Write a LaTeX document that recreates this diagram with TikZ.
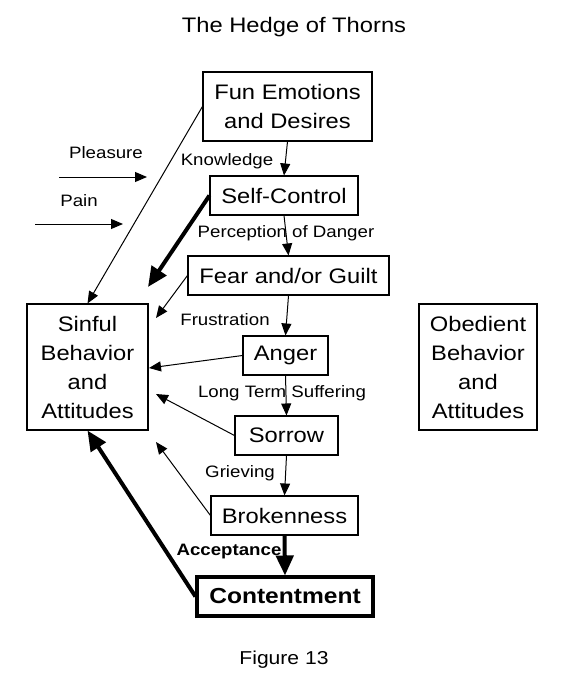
\documentclass[tikz,border=0pt]{standalone}
\usepackage{fontspec}
\setmainfont{Liberation Sans}[FakeStretch=1.13]
\usetikzlibrary{arrows.meta}
\newdimen\pxu \pxu=0.75pt
\newcommand\boxfont{\fontsize{15.75}{21.75}\selectfont}
\newcommand\lblfont{\fontsize{12.4}{14}\selectfont}
\tikzset{
  box/.style={draw, line width=0.8pt, inner sep=0pt, align=center, font=\boxfont},
  lbl/.style={inner sep=0pt, font=\lblfont},
  thin/.style={line width=0.75pt, -{Triangle[length=9pt,width=7.5pt]}},
  thick/.style={line width=3pt, -{Triangle[length=15pt,width=13pt]}},
}
\begin{document}
\begin{tikzpicture}[x=0.75pt,y=-0.75pt]
\useasboundingbox (0,0) rectangle (564,688);
% title and caption
\node[inner sep=0pt, font=\fontsize{15.75}{18}\selectfont] (title) at (294,27) {The Hedge of Thorns};
\node[inner sep=0pt, font=\fontsize{14}{16}\selectfont] (fig) at (284,660) {Figure 13};
% boxes
\node[box, minimum width=169\pxu, minimum height=69\pxu] (fun) at (287.5,106.5) {Fun Emotions\\and Desires};
\node[box, minimum width=148\pxu, minimum height=39\pxu] (self) at (284,195.5) {Self-Control};
\node[box, minimum width=201\pxu, minimum height=39\pxu] (fear) at (288.5,275.5) {Fear and/or Guilt};
\node[box, minimum width=85\pxu, minimum height=39\pxu] (anger) at (285.5,355.5) {Anger};
\node[box, minimum width=103\pxu, minimum height=39\pxu] (sorrow) at (286.5,435.5) {Sorrow};
\node[box, minimum width=147\pxu, minimum height=39\pxu] (broken) at (284.5,515.5) {Brokenness};
\node[box, line width=2.3pt, minimum width=176\pxu, minimum height=39\pxu, font=\fontsize{16.3}{20}\selectfont\bfseries] (content) at (285,596.5) {Contentment};
\node[box, minimum width=121\pxu, minimum height=126\pxu] (sinful) at (87.5,367) {Sinful\\Behavior\\and\\Attitudes};
\node[box, minimum width=118\pxu, minimum height=126\pxu] (obed) at (478,367) {Obedient\\Behavior\\and\\Attitudes};
% labels
\node[lbl] (lpleasure) at (106,153) {Pleasure};
\node[lbl] (lpain) at (79,201) {Pain};
\node[lbl] (lknow) at (227,161) {Knowledge};
\node[lbl] (lperc) at (286,233) {Perception of Danger};
\node[lbl] (lfrus) at (225,320) {Frustration};
\node[lbl] (llong) at (282,393) {Long Term Suffering};
\node[lbl] (lgriev) at (240,473) {Grieving};
\node[lbl, font=\lblfont\bfseries] (laccept) at (229,552) {Acceptance};
% free-end coordinates
\coordinate (p1) at (59,177);
\coordinate (p2) at (147,177);
\coordinate (q1) at (35,224);
\coordinate (q2) at (123,224);
\coordinate (tself) at (148,287);
\coordinate (tfear) at (156,318);
\coordinate (tanger) at (149,368);
\coordinate (tsorrow) at (156,394);
\coordinate (tbroken) at (156,442);
% vertical chain
\draw[thin] (fun.south) -- (self.north);
\draw[thin] (self.south) -- (fear.north);
\draw[thin] (fear.south) -- (anger.north);
\draw[thin] (anger.south) -- (sorrow.north);
\draw[thin] (sorrow.south) -- (broken.north);
\draw[thick] (broken.south) -- (content.north);
% to sinful
\draw[thin] (fun.west) -- (sinful.north);
\draw[thick] (self.west) -- (tself);
\draw[thin] (fear.west) -- (tfear);
\draw[thin] (anger.west) -- (tanger);
\draw[thin] (sorrow.west) -- (tsorrow);
\draw[thin] (broken.west) -- (tbroken);
\draw[thick] (content.west) -- (sinful.south);
% pleasure / pain
\draw[thin] (p1) -- (p2);
\draw[thin] (q1) -- (q2);
\end{tikzpicture}
\end{document}
